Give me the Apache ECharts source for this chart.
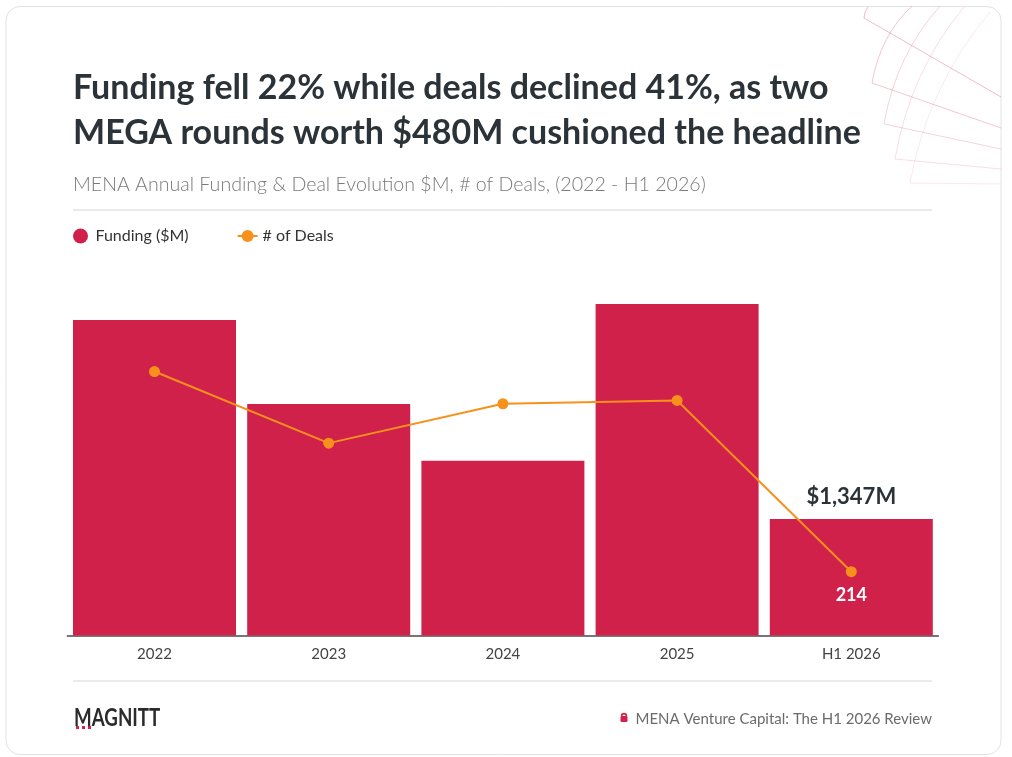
<!DOCTYPE html>
<html>
<head>
<meta charset="utf-8">
<title>MENA Annual Funding & Deal Evolution</title>
<script src="https://cdn.jsdelivr.net/npm/echarts@6.0.0/dist/echarts.min.js"></script>
<style>
  html, body { margin: 0; padding: 0; background: #fff; }
  #chart { width: 1012px; height: 757px; }
</style>
</head>
<body>
<div id="chart"></div>
<script>
// Chart data
var periods = ['2022', '2023', '2024', '2025', 'H1 2026'];
var fundingM = [3648, 2676, 2021, 3833, 1347];
var dealCounts = [885, 645, 777, 788, 214];

var FONT = 'Lato, "Noto Sans", sans-serif';
var RED = '#d0214a';
var ORANGE = '#f7911c';
var INK = '#2b3338';

var chart = echarts.init(document.getElementById('chart'), null, { renderer: 'canvas' });

// only the last period carries value labels
var lastIdx = periods.length - 1;
var barData = fundingM.map(function (v, i) {
  if (i !== lastIdx) return v;
  return {
    value: v,
    label: {
      show: true,
      position: 'top',
      distance: 11,
      formatter: function (p) { return '$' + p.value.toLocaleString('en-US') + 'M'; },
      fontFamily: FONT,
      fontWeight: 'bold',
      fontSize: 22,
      color: INK
    }
  };
});
var lineData = dealCounts.map(function (v, i) {
  if (i !== lastIdx) return v;
  return {
    value: v,
    label: {
      show: true,
      position: 'bottom',
      distance: 9,
      formatter: '{c}',
      fontFamily: FONT,
      fontWeight: 'bold',
      fontSize: 18,
      color: '#fff'
    }
  };
});

// decorative fan in the top-right corner: [corner x, corner y, edge y, arc end x, arc end y, control x, control y, alpha]
var fan = [
  [864, 18, 97, 868, 7, 864, 12, 0.30],
  [872, 83, 128, 912, 6, 880, 36, 0.26],
  [884, 124, 149, 940, 6, 896, 55, 0.20],
  [895, 159, 169, 964, 7, 910, 72, 0.15],
  [910, 183, 184, 990, 12, 928, 85, 0.10]
];
var decor = [];
fan.forEach(function (f) {
  var stroke = 'rgba(208,33,74,' + f[7] + ')';
  decor.push({ type: 'line', silent: true, z: 1,
    shape: { x1: f[0], y1: f[1], x2: 1001, y2: f[2] },
    style: { stroke: stroke, lineWidth: 1 } });
  decor.push({ type: 'bezierCurve', silent: true, z: 1,
    shape: { x1: f[0], y1: f[1], x2: f[3], y2: f[4], cpx1: f[5], cpy1: f[6] },
    style: { stroke: stroke, lineWidth: 1, fill: null } });
});

var option = {
  backgroundColor: '#fff',
  animation: false,
  title: [{
    text: 'Funding fell 22% while deals declined 41%, as two\nMEGA rounds worth $480M cushioned the headline',
    left: 73,
    top: 66,
    padding: 0,
    textStyle: { fontFamily: FONT, fontWeight: 'bold', fontSize: 34, lineHeight: 45, color: INK }
  }, {
    text: 'MENA Annual Funding & Deal Evolution $M, # of Deals, (2022 - H1 2026)',
    left: 73,
    top: 175,
    padding: 0,
    textStyle: { fontFamily: FONT, fontWeight: 300, fontSize: 19.6, color: '#7a7a7a' }
  }],
  legend: {
    left: 73,
    top: 228,
    padding: 0,
    itemWidth: 20,
    itemHeight: 15,
    itemGap: 48,
    textStyle: { fontFamily: FONT, fontSize: 16, color: '#333' },
    data: [
      { name: 'Funding ($M)', icon: 'circle' },
      { name: '# of Deals' }
    ]
  },
  grid: { left: 67.4, right: 73.6, top: 260, bottom: 121.5, containLabel: false },
  xAxis: {
    type: 'category',
    data: periods,
    axisTick: { show: false },
    axisLine: { lineStyle: { color: '#4a4a4a', width: 1.5 } },
    axisLabel: { fontFamily: FONT, fontSize: 15, color: '#444', margin: 11 }
  },
  yAxis: [
    { type: 'value', min: 0, max: 4341, show: false, splitLine: { show: false } },
    { type: 'value', min: 0, max: 1259, show: false, splitLine: { show: false } }
  ],
  series: [{
    name: 'Funding ($M)',
    type: 'bar',
    yAxisIndex: 0,
    data: barData,
    barWidth: 163,
    itemStyle: { color: RED },
    z: 2
  }, {
    name: '# of Deals',
    type: 'line',
    yAxisIndex: 1,
    data: lineData,
    symbol: 'circle',
    symbolSize: 11,
    lineStyle: { color: ORANGE, width: 2 },
    itemStyle: { color: ORANGE },
    z: 5
  }],
  graphic: [
    // card
    { type: 'rect', silent: true, z: -10,
      shape: { x: 6, y: 6.5, width: 995, height: 748, r: 14 },
      style: { fill: '#fff', stroke: '#e2e2e2', lineWidth: 1 } },
    // separators
    { type: 'line', silent: true,
      shape: { x1: 73, y1: 210, x2: 932, y2: 210 },
      style: { stroke: '#e3e3e3', lineWidth: 1.5 } },
    { type: 'line', silent: true,
      shape: { x1: 73, y1: 681, x2: 932, y2: 681 },
      style: { stroke: '#e3e3e3', lineWidth: 1.5 } },
    // logo
    { type: 'text', silent: true, x: 74, y: 718, scaleX: 0.78,
      style: { text: 'MAGNITT', fontFamily: FONT, fontWeight: 'bold', fontSize: 24,
        fill: '#2b2b2b', verticalAlign: 'middle' } },
    { type: 'rect', silent: true, shape: { x: 76, y: 726, width: 3, height: 3 }, style: { fill: RED } },
    { type: 'rect', silent: true, shape: { x: 82, y: 726, width: 3, height: 3 }, style: { fill: RED } },
    { type: 'rect', silent: true, shape: { x: 88, y: 726, width: 3, height: 3 }, style: { fill: RED } },
    // lock icon + source
    { type: 'rect', silent: true, shape: { x: 620.5, y: 716, width: 7, height: 6, r: 1 }, style: { fill: RED } },
    { type: 'arc', silent: true, shape: { cx: 624, cy: 716, r: 2.4, startAngle: Math.PI, endAngle: 0 },
      style: { stroke: RED, lineWidth: 1.6, fill: null } },
    { type: 'text', silent: true, x: 932, y: 719,
      style: { text: 'MENA Venture Capital: The H1 2026 Review', fontFamily: FONT, fontSize: 15,
        fill: '#6b6b6b', align: 'right', verticalAlign: 'middle' } }
  ].concat(decor)
};

chart.setOption(option);
</script>
</body>
</html>
